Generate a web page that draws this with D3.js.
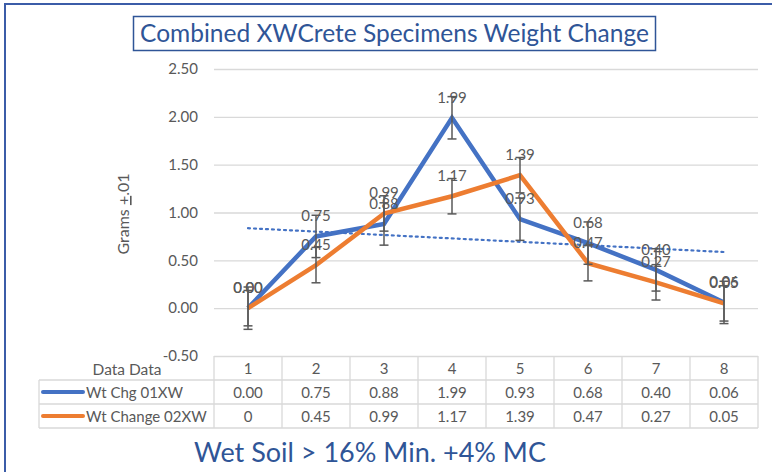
<!DOCTYPE html>
<html>
<head>
<meta charset="utf-8">
<script src="https://cdn.jsdelivr.net/npm/d3@7"></script>
<style>
  body { margin: 0; background: #fff; }
  text { font-family: Lato, "Open Sans", sans-serif; }
</style>
</head>
<body>
<div id="chart"></div>
<script>
var categories = ["1", "2", "3", "4", "5", "6", "7", "8"];
var seriesNames = ["Wt Chg 01XW", "Wt Change 02XW"];
var chgBlue = [0.00, 0.75, 0.88, 1.99, 0.93, 0.68, 0.40, 0.06];
var chgOrange = [0, 0.45, 0.99, 1.17, 1.39, 0.47, 0.27, 0.05];
var tableBlue = ["0.00", "0.75", "0.88", "1.99", "0.93", "0.68", "0.40", "0.06"];
var tableOrange = ["0", "0.45", "0.99", "1.17", "1.39", "0.47", "0.27", "0.05"];
var yTicks = [-0.5, 0, 0.5, 1, 1.5, 2, 2.5];
var colors = ["#4472C4", "#ED7D31"];

var W = 772, H = 472;
var plot = {left: 214, right: 758, top: 69, bottom: 356};
var rowH = 24;
var grey = "#595959", gridCol = "#D9D9D9", titleBlue = "#2F5597";

var svg = d3.select("#chart")
    .append("svg")
        .attr("width", W)
        .attr("height", H);

// outer frame (only top and left edges are visible)
svg.append("path")
    .attr("d", "M5,472 L5,4 L772,4")
    .attr("fill", "none")
    .attr("stroke", "#3B5CA8")
    .attr("stroke-width", 2);

// title box
svg.append("rect")
    .attr("x", 133.5).attr("y", 16.5)
    .attr("width", 522).attr("height", 34)
    .attr("fill", "#fff")
    .attr("stroke", titleBlue)
    .attr("stroke-width", 1.5);

svg.append("text")
    .attr("x", 394.5)
    .attr("y", 42)
    .attr("text-anchor", "middle")
    .style("font-size", "24.5px")
    .attr("fill", titleBlue)
    .text("Combined XWCrete Specimens Weight Change");

var x = d3.scaleBand()
    .domain(categories)
    .range([plot.left, plot.right]);

var y = d3.scaleLinear()
    .domain([-0.5, 2.5])
    .range([plot.bottom, plot.top]);

function cx(i) { return x(categories[i]) + x.bandwidth() / 2; }
var fmt = function(v) { return d3.format(".2f")(v).replace("\u2212", "-"); };

// gridlines + tick labels
var yAxis = svg.append("g")
    .attr("transform", "translate(" + plot.left + ",0)")
    .call(d3.axisLeft(y)
        .tickValues(yTicks)
        .tickSize(-(plot.right - plot.left))
        .tickPadding(16)
        .tickFormat(fmt));
yAxis.select(".domain").remove();
yAxis.selectAll(".tick line").attr("stroke", gridCol).attr("stroke-width", 1.3);
yAxis.selectAll(".tick text")
    .attr("fill", grey)
    .style("font-size", "15px")
    .style("font-family", "Lato, sans-serif");

// y axis title
var yTitle = svg.append("text")
    .attr("transform", "translate(129,214) rotate(-90)")
    .attr("text-anchor", "middle")
    .attr("fill", grey)
    .style("font-size", "16px");
yTitle.append("tspan").text("Grams ");
yTitle.append("tspan").style("text-decoration", "underline").text("+");
yTitle.append("tspan").text(".01");

// linear trendline of the first series
var xs = chgBlue.map(function(d, i) { return i + 1; });
var mx = d3.mean(xs), my = d3.mean(chgBlue);
var slope = d3.sum(xs, function(v, i) { return (v - mx) * (chgBlue[i] - my); }) /
            d3.sum(xs, function(v) { return (v - mx) * (v - mx); });
var icpt = my - slope * mx;
svg.append("line")
    .attr("x1", cx(0)).attr("y1", y(icpt + slope * 1))
    .attr("x2", cx(7)).attr("y2", y(icpt + slope * 8))
    .attr("stroke", colors[0])
    .attr("stroke-width", 2.2)
    .attr("stroke-dasharray", "2,4")
    .attr("stroke-linecap", "round");

var series = [chgBlue, chgOrange];
var line = d3.line()
    .x(function(d, i) { return cx(i); })
    .y(function(d) { return y(d); });

series.forEach(function(vals, s) {
    svg.append("path")
        .datum(vals)
        .attr("d", line)
        .attr("fill", "none")
        .attr("stroke", colors[s])
        .attr("stroke-width", 4.5)
        .attr("stroke-linejoin", "miter");
});

// standard error bars
series.forEach(function(vals) {
    var se = d3.deviation(vals) / Math.sqrt(vals.length);
    var g = svg.append("g")
        .attr("stroke", grey)
        .attr("stroke-width", 1.5);
    vals.forEach(function(v, i) {
        var px = cx(i);
        g.append("line")
            .attr("x1", px).attr("x2", px)
            .attr("y1", y(v - se)).attr("y2", y(v + se));
        [v - se, v + se].forEach(function(e) {
            g.append("line")
                .attr("x1", px - 4.5).attr("x2", px + 4.5)
                .attr("y1", y(e)).attr("y2", y(e));
        });
    });
});

// data labels
series.forEach(function(vals) {
    svg.append("g").selectAll("text")
        .data(vals)
        .enter()
        .append("text")
        .attr("x", function(d, i) { return cx(i); })
        .attr("y", function(d) { return y(d) - 15; })
        .attr("text-anchor", "middle")
        .attr("fill", grey)
        .style("font-size", "15px")
        .text(fmt);
});

// data table
var table = svg.append("g")
    .attr("stroke", gridCol)
    .attr("stroke-width", 1.3);
var tTop = plot.bottom, legLeft = 39;
[1, 2, 3].forEach(function(r) {
    table.append("line")
        .attr("x1", legLeft).attr("x2", plot.right)
        .attr("y1", tTop + r * rowH).attr("y2", tTop + r * rowH);
});
table.append("line")
    .attr("x1", legLeft).attr("x2", legLeft)
    .attr("y1", tTop + rowH).attr("y2", tTop + 3 * rowH);
categories.concat(["end"]).forEach(function(c, i) {
    var lx = plot.left + i * x.bandwidth();
    table.append("line")
        .attr("x1", lx).attr("x2", lx)
        .attr("y1", tTop).attr("y2", tTop + 3 * rowH);
});

svg.append("text")
    .attr("x", 127)
    .attr("y", tTop + 19)
    .attr("text-anchor", "middle")
    .attr("fill", grey)
    .style("font-size", "15.5px")
    .text("Data Data");

var rows = [categories, tableBlue, tableOrange];
rows.forEach(function(r, ri) {
    svg.append("g").selectAll("text")
        .data(r)
        .enter()
        .append("text")
        .attr("x", function(d, i) { return cx(i); })
        .attr("y", tTop + ri * rowH + 17.5)
        .attr("text-anchor", "middle")
        .attr("fill", grey)
        .style("font-size", "15px")
        .text(function(d) { return d; });
});

seriesNames.forEach(function(n, s) {
    var ry = tTop + (s + 1) * rowH + rowH / 2;
    svg.append("line")
        .attr("x1", 43).attr("x2", 83)
        .attr("y1", ry).attr("y2", ry)
        .attr("stroke", colors[s])
        .attr("stroke-width", 4)
        .attr("stroke-linecap", "round");
    svg.append("text")
        .attr("x", 86)
        .attr("y", ry + 5.5)
        .attr("fill", grey)
        .style("font-size", "15px")
        .text(n);
});

// subtitle
svg.append("text")
    .attr("x", 370)
    .attr("y", 462)
    .attr("text-anchor", "middle")
    .attr("fill", titleBlue)
    .style("font-size", "27px")
    .text("Wet Soil > 16% Min. +4% MC");
</script>
</body>
</html>
